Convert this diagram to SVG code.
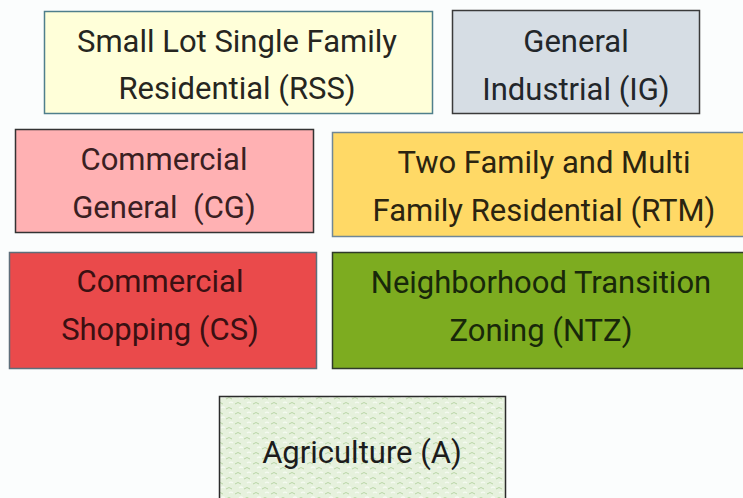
<svg xmlns="http://www.w3.org/2000/svg" width="743" height="498" viewBox="0 0 743 498">
  <defs>
    <style>
      .box { stroke-width: 1.5; }
      .lbl { font-family: Roboto, "Liberation Sans", sans-serif; font-size: 31px; fill: #1c1c1c; text-anchor: middle; }
      #rss .lbl { fill: #26261f; }
      #ig .lbl { fill: #22262a; }
      #cg .lbl { fill: #3a2022; }
      #rtm .lbl { fill: #2b2410; }
      #cs .lbl { fill: #3a1012; }
      #ntz .lbl { fill: #18280a; }
    </style>
    <!-- subtle leafy texture for the agriculture zone -->
    <pattern id="grass" width="18" height="10" patternUnits="userSpaceOnUse">
      <rect width="18" height="10" fill="#e6f1dd"/>
      <path d="M1 4 q3 -3 6 0 M10 9 q3 -3 6 0" fill="none" stroke="#b9d6a6" stroke-width="1"/>
      <path d="M5 8 q2 -2 4 0 M13 3 q2 -2 4 0" fill="none" stroke="#f6fbf2" stroke-width="1.2"/>
    </pattern>
  </defs>
  <rect width="743" height="498" fill="#fbfdfd"/>

  <g id="rss">
    <rect class="box" x="44.5" y="11.5" width="388" height="102" fill="#ffffd9" stroke="#4f7f8c"/>
    <text class="lbl" x="237" y="52">Small Lot Single Family</text>
    <text class="lbl" x="237" y="99">Residential (RSS)</text>
  </g>

  <g id="ig">
    <rect class="box" x="452.5" y="10.5" width="247" height="103" fill="#d6dde4" stroke="#3a3a3a"/>
    <text class="lbl" x="576" y="52">General</text>
    <text class="lbl" x="576" y="100">Industrial (IG)</text>
  </g>

  <g id="cg">
    <rect class="box" x="15.5" y="129.5" width="298" height="103" fill="#ffb1b3" stroke="#333333"/>
    <text class="lbl" x="164" y="170">Commercial</text>
    <text class="lbl" x="164" y="218" xml:space="preserve">General  (CG)</text>
  </g>

  <g id="rtm">
    <rect class="box" x="332.5" y="132.5" width="412" height="104" fill="#ffd966" stroke="#6f8797"/>
    <text class="lbl" x="544" y="173">Two Family and Multi</text>
    <text class="lbl" x="544" y="221">Family Residential (RTM)</text>
  </g>

  <g id="cs">
    <rect class="box" x="9.5" y="252.5" width="307" height="116" fill="#ea4a4b" stroke="#5e6e7a"/>
    <text class="lbl" x="160" y="292">Commercial</text>
    <text class="lbl" x="160" y="340">Shopping (CS)</text>
  </g>

  <g id="ntz">
    <rect class="box" x="332.5" y="252.5" width="412" height="116" fill="#7dac20" stroke="#2f3a2a"/>
    <text class="lbl" x="541" y="293">Neighborhood Transition</text>
    <text class="lbl" x="541" y="341">Zoning (NTZ)</text>
  </g>

  <g id="agriculture">
    <rect class="box" x="219.5" y="396.5" width="286" height="103" fill="url(#grass)" stroke="#2b2b2b"/>
    <text class="lbl" x="362" y="463">Agriculture (A)</text>
  </g>

  <g id="connectors"/>
</svg>
